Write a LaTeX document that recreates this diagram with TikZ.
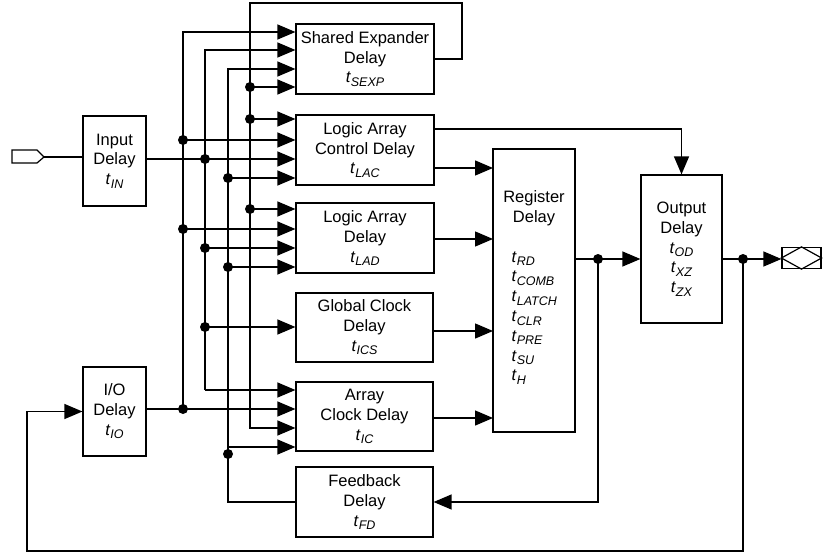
\documentclass[tikz,border=0pt]{standalone}
\usepackage{fontspec}
\setmainfont{Liberation Sans}
\usetikzlibrary{arrows.meta,calc}
\newcommand\tsb[1]{\textit{t}\raisebox{-3.5pt}{\fontsize{12.5}{12.5}\selectfont\textit{#1}}}
\begin{document}
\begin{tikzpicture}[x=1pt,y=-1pt,line width=1.3pt,
  blk/.style={draw,line width=1.2pt,rectangle,inner sep=0pt,align=center,
    font=\fontsize{16.5}{19.8}\selectfont},
  txt/.style={inner sep=0pt,font=\fontsize{16.5}{19.8}\selectfont},
  arr/.style={-{Triangle[length=18pt,width=15pt]}},
  dot/.style={circle,fill,inner sep=0pt,minimum size=10pt}]
\useasboundingbox (0,0) rectangle (829,553);

% boxes
\node[blk,minimum width=63pt,minimum height=90pt] (IN) at (114.5,161) {Input\\Delay\\\tsb{IN}};
\node[blk,minimum width=63pt,minimum height=89pt] (IO) at (114.5,411.5) {I/O\\Delay\\\tsb{IO}};
\node[blk,minimum width=138pt,minimum height=70pt] (SE) at (365,59) {Shared Expander\\Delay\\\tsb{SEXP}};
\node[blk,minimum width=138pt,minimum height=70pt] (LAC) at (365,150) {Logic Array\\Control Delay\\\tsb{LAC}};
\node[blk,minimum width=138pt,minimum height=70pt] (LAD) at (365,238) {Logic Array\\Delay\\\tsb{LAD}};
\node[blk,minimum width=137pt,minimum height=69pt] (GCK) at (364.5,327.5) {Global Clock\\Delay\\\tsb{ICS}};
\node[blk,minimum width=137pt,minimum height=69pt] (ACK) at (364.5,416.5) {Array\\Clock Delay\\\tsb{IC}};
\node[blk,minimum width=137pt,minimum height=70pt] (FD) at (364.5,502) {Feedback\\Delay\\\tsb{FD}};
\node[blk,minimum width=82pt,minimum height=283pt] (REG) at (534,290.5) {};
\node[txt,align=center] (REGt) at (534,208) {Register\\Delay};
\node[txt,align=left,anchor=west] (REGl) at (511,318) {\tsb{RD}\\\tsb{COMB}\\\tsb{LATCH}\\\tsb{CLR}\\\tsb{PRE}\\\tsb{SU}\\\tsb{H}};
\node[blk,minimum width=81pt,minimum height=148pt] (OUT) at (681.5,249) {Output\\Delay\\\tsb{OD}\\\tsb{XZ}\\\tsb{ZX}};
\node[draw,line width=1.2pt,rectangle,inner sep=0pt,minimum width=39pt,minimum height=21pt] (pinOut) at (801.5,258) {};
\draw[line width=1.2pt] (pinOut.west) -- (pinOut.north) -- (pinOut.east) -- (pinOut.south) -- cycle;
\coordinate (pinIn) at (44,157);
\draw[line width=1.2pt] (12,150) -- (37,150) -- (pinIn) -- (37,163) -- (12,163) -- cycle;

% junction coordinates
\coordinate (a1) at (183,32);  \coordinate (b1) at (205,50);
\coordinate (c1) at (228,69);  \coordinate (d1) at (250,87);
\coordinate (d2) at (250,119); \coordinate (a2) at (183,140);
\coordinate (b2) at (205,159); \coordinate (c2) at (228,178);
\coordinate (d3) at (250,209); \coordinate (a3) at (183,229);
\coordinate (b3) at (205,248); \coordinate (c3) at (228,267);
\coordinate (b4) at (205,327);
\coordinate (b5) at (205,390); \coordinate (a4) at (183,409);
\coordinate (d4) at (250,428); \coordinate (c4) at (228,447);
\coordinate (cF) at (228,454); \coordinate (cB) at (228,502);
\coordinate (d0) at (250,3);   \coordinate (sR) at (462,3);
\coordinate (lo) at (434,129);
\coordinate (r1) at (493,168); \coordinate (r2) at (493,239);
\coordinate (r3) at (493,331); \coordinate (r4) at (493,418);
\coordinate (ro) at (598,259); \coordinate (oo) at (743,259);
\coordinate (bl) at (743,551); \coordinate (br) at (27,551);

% input pin to input delay
\draw (pinIn) -- (IN.west |- pinIn);
\draw[arr] (IN.east |- b2) -- (b2 -| LAC.west);
% I/O delay output
\draw[arr] (IO.east |- a4) -- (a4 -| ACK.west);

% buses
\draw[arr] (a4) -- (a1) -- (a1 -| SE.west);
\draw[arr] (b5) -- (b1) -- (b1 -| SE.west);
\draw[arr] (b5) -- (b5 -| ACK.west);
\draw[arr] (FD.west) -- (cB) -- (c1) -- (c1 -| SE.west);
\draw[arr] (SE.east) -| (sR) -- (d0) -- (d4) -- (d4 -| ACK.west);

% branches
\foreach \p/\b in {d1/SE,d2/LAC,a2/LAC,c2/LAC,d3/LAD,a3/LAD,b3/LAD,c3/LAD,b4/GCK,c4/ACK}
  \draw[arr] (\p) -- (\p -| \b.west);

% to register
\draw[arr] (r1 -| LAC.east) -- (r1);
\draw[arr] (r2 -| LAD.east) -- (r2);
\draw[arr] (r3 -| GCK.east) -- (r3);
\draw[arr] (r4 -| ACK.east) -- (r4);
\draw[arr] (lo) -| (OUT.north);

% register and output
\draw[arr] (REG.east |- ro) -- (ro -| OUT.west);
\draw[arr] (ro) |- (FD.east);
\draw[arr] (OUT.east |- oo) -- (oo -| pinOut.west);
\draw[arr] (oo) -- (bl) -- (br) |- (IO.west);

% dots
\foreach \p in {d1,d2,a2,b2,c2,d3,a3,b3,c3,b4,a4,cF,ro,oo}
  \node[dot] (dot-\p) at (\p) {};
\end{tikzpicture}
\end{document}
